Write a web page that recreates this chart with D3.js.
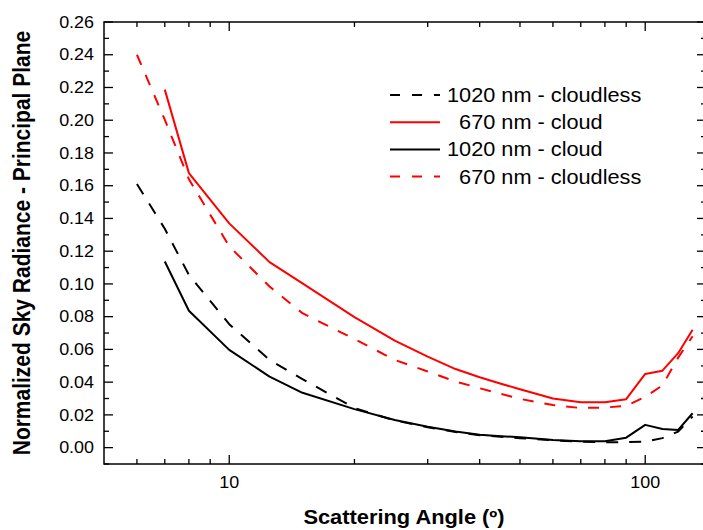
<!DOCTYPE html>
<html>
<head>
<meta charset="utf-8">
<script src="https://cdn.jsdelivr.net/npm/d3@7"></script>
<style>
  body { margin: 0; background: #fff; }
  svg { display: block; }
  text { font-family: "Liberation Sans", Arial, Helvetica, sans-serif; fill: #000; }
</style>
</head>
<body>
<svg id="chart" width="703" height="530"></svg>
<script>
// Scattering angles (degrees) sampled along the principal plane
const angles = [6, 7, 8, 10, 12.5, 15, 20, 25, 30, 35, 40, 45, 50, 60, 70, 80, 90, 100, 110, 120, 130];

// Normalized sky radiance for each case (null = not measured)
const cloudless1020 = [0.161, 0.1337, 0.1055, 0.0754, 0.0536, 0.0418, 0.0242, 0.0166, 0.0125, 0.0095, 0.0076, 0.0066, 0.0058, 0.0045, 0.0036, 0.0033, 0.0034, 0.0036, 0.0058, 0.0098, 0.019];
const cloud670      = [null, 0.2187, 0.1677, 0.137, 0.1133, 0.1003, 0.0797, 0.0654, 0.0556, 0.0480, 0.0430, 0.0390, 0.0357, 0.0300, 0.0277, 0.0277, 0.0296, 0.0450, 0.0470, 0.0577, 0.0720];
const cloud1020     = [null, 0.1137, 0.0836, 0.0597, 0.0434, 0.0335, 0.0235, 0.0169, 0.0128, 0.0098, 0.0078, 0.0070, 0.0064, 0.0047, 0.0039, 0.0039, 0.0061, 0.0139, 0.0114, 0.0108, 0.0210];
const cloudless670  = [0.240, 0.2003, 0.164, 0.123, 0.0984, 0.0821, 0.0663, 0.0536, 0.0465, 0.0404, 0.0363, 0.0328, 0.0298, 0.0260, 0.0242, 0.0245, 0.0255, 0.0310, 0.0380, 0.0550, 0.0680];

// Legend entries, in drawing order
const seriesNames = ["1020 nm - cloudless", "  670 nm - cloud", "1020 nm - cloud", "  670 nm - cloudless"];

// Axis tick values and labels
const yTicks = [0.00, 0.02, 0.04, 0.06, 0.08, 0.10, 0.12, 0.14, 0.16, 0.18, 0.20, 0.22, 0.24, 0.26];
const yMinorTicks = [-0.01, 0.01, 0.03, 0.05, 0.07, 0.09, 0.11, 0.13, 0.15, 0.17, 0.19, 0.21, 0.23, 0.25];
const xTicks = [10, 100];
const xMinorTicks = [6, 7, 8, 9, 20, 30, 40, 50, 60, 70, 80, 90];

const xTitle = "Scattering Angle (º)";
const yTitle = "Normalized Sky Radiance - Principal Plane";

const svg = d3.select("#chart");
const m = { left: 104, top: 22, right: 706, bottom: 464 };
const STRETCH = 1.12;   // wide lettering

const x = d3.scaleLog().domain([5, 140]).range([m.left, m.right]);
const y = d3.scaleLinear().domain([-0.01, 0.26]).range([m.bottom, m.top]);

const series = [
  { values: cloudless1020, color: "#000", dash: "12,11" },
  { values: cloud670,      color: "#f00", dash: null },
  { values: cloud1020,     color: "#000", dash: null },
  { values: cloudless670,  color: "#f00", dash: "11,11" }
];

// Curves
const line = d3.line()
  .defined(d => d.v != null)
  .x(d => x(d.a))
  .y(d => y(d.v));

const plot = svg.append("g");
series.forEach(s => {
  const pts = angles.map((a, i) => ({ a, v: s.values[i] }));
  plot.append("path")
    .datum(pts)
    .attr("d", line)
    .attr("fill", "none")
    .attr("stroke", s.color)
    .attr("stroke-width", 2)
    .attr("stroke-linejoin", "round")
    .attr("stroke-dasharray", s.dash);
});

// Frame
const axes = svg.append("g").attr("stroke", "#000").attr("stroke-width", 1.5).attr("fill", "none");
axes.append("rect")
  .attr("x", m.left).attr("y", m.top)
  .attr("width", m.right - m.left).attr("height", m.bottom - m.top);

const ticks = svg.append("g").attr("stroke", "#000").attr("stroke-width", 1.3);
const MAJ = 9, MIN = 5;

// Y ticks on left and right, pointing inward
yTicks.forEach(t => {
  ticks.append("line").attr("x1", m.left).attr("x2", m.left + MAJ).attr("y1", y(t)).attr("y2", y(t));
  ticks.append("line").attr("x1", m.right).attr("x2", m.right - MAJ).attr("y1", y(t)).attr("y2", y(t));
});
yMinorTicks.forEach(t => {
  ticks.append("line").attr("x1", m.left).attr("x2", m.left + MIN).attr("y1", y(t)).attr("y2", y(t));
  ticks.append("line").attr("x1", m.right).attr("x2", m.right - MIN).attr("y1", y(t)).attr("y2", y(t));
});
// X ticks on bottom and top, pointing inward
xTicks.forEach(t => {
  ticks.append("line").attr("x1", x(t)).attr("x2", x(t)).attr("y1", m.bottom).attr("y2", m.bottom - MAJ);
  ticks.append("line").attr("x1", x(t)).attr("x2", x(t)).attr("y1", m.top).attr("y2", m.top + MAJ);
});
xMinorTicks.forEach(t => {
  ticks.append("line").attr("x1", x(t)).attr("x2", x(t)).attr("y1", m.bottom).attr("y2", m.bottom - MIN);
  ticks.append("line").attr("x1", x(t)).attr("x2", x(t)).attr("y1", m.top).attr("y2", m.top + MIN);
});

// Text helper with horizontal stretch
function label(g, str, tx, ty, opts) {
  const o = Object.assign({ size: 16, anchor: "start", weight: "normal", rotate: 0 }, opts || {});
  const tr = o.rotate
    ? `translate(${tx},${ty}) rotate(${o.rotate}) scale(1,${STRETCH})`
    : `translate(${tx},${ty}) scale(${STRETCH},1)`;
  return g.append("text")
    .attr("transform", tr)
    .attr("text-anchor", o.anchor)
    .attr("font-size", o.size)
    .attr("font-weight", o.weight)
    .style("white-space", "pre")
    .text(str);
}

const txt = svg.append("g");
const fmtY = d3.format(".2f");
yTicks.forEach(t => label(txt, fmtY(t), 94, y(t) + 5.7, { anchor: "end", size: 16 }));
xTicks.forEach(t => label(txt, String(t), x(t), 488, { anchor: "middle", size: 16 }));

label(txt, xTitle, 404, 524, { anchor: "middle", size: 19.5, weight: "bold" });
label(txt, yTitle, 30, (m.top + m.bottom) / 2, { anchor: "middle", size: 21, weight: "bold", rotate: -90 });

// Legend
const legend = svg.append("g");
const legY0 = 95, legStep = 27.2;
series.forEach((s, i) => {
  const ly = legY0 + i * legStep;
  legend.append("line")
    .attr("x1", 390).attr("x2", 440).attr("y1", ly).attr("y2", ly)
    .attr("stroke", s.color).attr("stroke-width", 2)
    .attr("stroke-dasharray", s.dash ? "10,12" : null);
  label(legend, seriesNames[i], 447, ly + 7, { size: 19.4 });
});
</script>
</body>
</html>
